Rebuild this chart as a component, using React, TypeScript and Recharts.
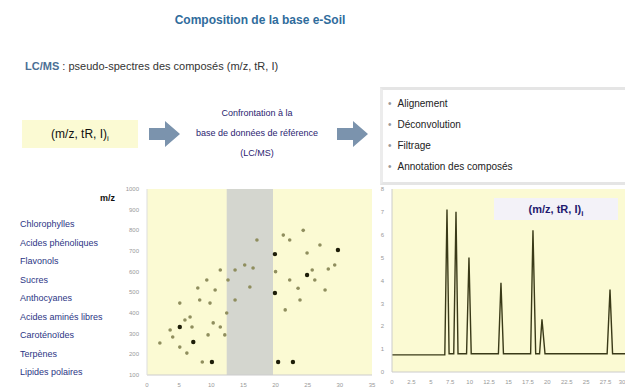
import React from 'react';
import { ScatterChart, Scatter, XAxis, YAxis, ReferenceArea, LineChart, Line } from 'recharts';

const titleText = 'Composition de la base e-Soil';
const subtitleLead = 'LC/MS';
const subtitleRest = ': pseudo-spectres des composés (m/z, tR, I)';
const featureTuple = '(m/z, tR, I)';
const middleLines = ['Confrontation à la', 'base de données de référence', '(LC/MS)'];
const processingSteps = ['Alignement', 'Déconvolution', 'Filtrage', 'Annotation des composés'];
const compoundClasses = [
  'Chlorophylles',
  'Acides phénoliques',
  'Flavonols',
  'Sucres',
  'Anthocyanes',
  'Acides aminés libres',
  'Caroténoïdes',
  'Terpènes',
  'Lipides polaires',
];

const rtTicks = [0, 5, 10, 15, 20, 25, 30, 35];
const mzTicks = [100, 200, 300, 400, 500, 600, 700, 800, 900, 1000];
const bandStart = 12.4;
const bandEnd = 19.6;

const darkRt = [19.9, 29.7, 24.9, 19.9, 5.1, 7.2, 10.1, 20.4, 22.7];
const darkMz = [685, 705, 584, 497, 332, 260, 163, 163, 163];
const lightRt = [9.3, 7.9, 5.1, 9.8, 6.7, 5.1, 8.6, 21.2, 24.3, 24.9, 22.2, 25.7, 28.2, 26.1, 16.5, 17.1, 16.0, 13.7, 11.4, 11.4, 12.4, 10.3, 7.0, 4.0, 6.2, 9.5, 20.0, 23.5, 2.0, 3.6, 5.9, 8.2, 10.6, 12.6, 13.7, 12.1, 15.2, 22.2, 26.9, 29.2, 27.7, 23.8, 21.5];
const lightMz = [560, 521, 448, 448, 381, 235, 163, 777, 800, 690, 560, 608, 613, 560, 618, 753, 526, 608, 608, 332, 400, 352, 332, 284, 206, 294, 600, 520, 255, 318, 366, 463, 511, 560, 463, 294, 632, 753, 729, 632, 511, 463, 415];

const chromTime = [0, 6.8, 7.08, 7.35, 7.95, 8.24, 8.5, 9.6, 9.91, 10.2, 13.7, 14.03, 14.35, 17.85, 18.15, 18.5, 19.0, 19.31, 19.7, 27.7, 28.07, 28.4, 30];
const chromIntensity = [0.75, 0.75, 7.1, 0.8, 0.8, 7.0, 0.8, 0.8, 5.0, 0.8, 0.8, 3.9, 0.8, 0.8, 6.2, 0.8, 0.8, 2.3, 0.8, 0.8, 3.6, 0.8, 0.8];
const chromTimeTicks = [0, 2.5, 5, 7.5, 10, 12.5, 15, 17.5, 20, 22.5, 25, 27.5, 30];
const chromIntTicks = [0, 1, 2, 3, 4, 5, 6, 7, 8];

const darkFeatures = darkRt.map((rt, i) => ({ rt, mz: darkMz[i] }));
const lightFeatures = lightRt.map((rt, i) => ({ rt, mz: lightMz[i] }));
const chromData = chromTime.map((t, i) => ({ t, i: chromIntensity[i] }));

const FONT = '"Liberation Sans", Arial, sans-serif';
const YELLOW = '#fbfad3';

const Arrow = ({ left, top }: { left: number; top: number }) => (
  <svg style={{ position: 'absolute', left, top }} width={32} height={26}>
    <polygon points="0,7 16,7 16,0 31,13 16,26 16,19 0,19" fill="#7b93ad" />
  </svg>
);

const dot = (color: string, r: number) => (props: any) => (
  <circle cx={props.cx} cy={props.cy} r={r} fill={color} />
);

export default function App() {
  return (
    <div style={{ position: 'absolute', left: 0, top: 0, width: 625, height: 392, background: '#fff', overflow: 'hidden', fontFamily: FONT }}>
      <div style={{ position: 'absolute', left: 0, width: 520, top: 13, textAlign: 'center', fontSize: 12, fontWeight: 'bold', color: '#2f6c9c' }}>
        {titleText}
      </div>
      <div style={{ position: 'absolute', left: 25, top: 60, fontSize: 11, color: '#333', whiteSpace: 'nowrap' }}>
        <span style={{ color: '#4b6f95', fontWeight: 'bold' }}>{subtitleLead}</span> {subtitleRest}
      </div>

      <div style={{ position: 'absolute', left: 22, top: 120, width: 116, height: 28, background: YELLOW, fontSize: 12, lineHeight: '28px', textAlign: 'center', color: '#111' }}>
        {featureTuple}<sub style={{ fontSize: 8 }}>i</sub>
      </div>
      <Arrow left={149} top={121} />
      <div style={{ position: 'absolute', left: 182, width: 150, top: 103, textAlign: 'center', fontSize: 9, color: '#2b2370', lineHeight: '20px' }}>
        {middleLines.map((l) => (
          <div key={l}>{l}</div>
        ))}
      </div>
      <Arrow left={337} top={121} />

      <div style={{ position: 'absolute', left: 380, top: 87, width: 260, height: 92, borderTop: '3px solid #e5e5e5', borderLeft: '3px solid #ececec', borderBottom: '3px solid #e5e5e5', background: '#fff' }}>
        {processingSteps.map((s, k) => (
          <div key={s} style={{ position: 'absolute', left: 5, top: 8 + k * 21, fontSize: 10, color: '#222', whiteSpace: 'nowrap' }}>
            <span style={{ color: '#999', marginRight: 6 }}>•</span>
            {s}
          </div>
        ))}
      </div>

      <div style={{ position: 'absolute', left: 100, top: 193, fontSize: 9, fontWeight: 'bold', color: '#111' }}>
        m/z
      </div>
      <div style={{ position: 'absolute', left: 20, top: 215, fontSize: 9, lineHeight: '18.5px', color: '#2c3585' }}>
        {compoundClasses.map((c) => (
          <div key={c} style={{ whiteSpace: 'nowrap' }}>{c}</div>
        ))}
      </div>

      <div style={{ position: 'absolute', left: 100, top: 185 }}>
        <ScatterChart width={280} height={204} margin={{ top: 4, right: 8, bottom: 0, left: 0 }}>
          <XAxis type="number" dataKey="rt" domain={[0, 35]} ticks={rtTicks} height={14} tick={{ fontSize: 6, fill: '#999' }} tickLine={false} axisLine={{ stroke: '#ccc' }} />
          <YAxis type="number" dataKey="mz" domain={[100, 1000]} ticks={mzTicks} width={47} tick={{ fontSize: 6, fill: '#999' }} tickLine={false} axisLine={{ stroke: '#ddd' }} />
          <ReferenceArea x1={0} x2={35} y1={100} y2={1000} fill={YELLOW} fillOpacity={1} stroke="none" />
          <ReferenceArea x1={bandStart} x2={bandEnd} y1={100} y2={1000} fill="#d4d6cf" fillOpacity={1} stroke="none" />
          <Scatter data={lightFeatures} fill="#8f8e5e" shape={dot('#8f8e5e', 1.8)} isAnimationActive={false} />
          <Scatter data={darkFeatures} fill="#1d1d08" shape={dot('#1d1d08', 2.2)} isAnimationActive={false} />
        </ScatterChart>
      </div>

      <div style={{ position: 'absolute', left: 372, top: 185 }}>
        <LineChart width={253} height={201} data={chromData} margin={{ top: 4, right: 0, bottom: 0, left: 0 }}>
          <ReferenceArea x1={0} x2={30} y1={0} y2={8} fill={YELLOW} fillOpacity={1} stroke="none" />
          <XAxis type="number" dataKey="t" domain={[0, 30]} ticks={chromTimeTicks} height={14} tick={{ fontSize: 6, fill: '#999' }} tickLine={false} axisLine={{ stroke: '#ccc' }} />
          <YAxis type="number" domain={[0, 8]} ticks={chromIntTicks} width={20} tick={{ fontSize: 6, fill: '#999' }} tickLine={false} axisLine={{ stroke: '#ccc' }} />
          <Line type="linear" dataKey="i" stroke="#3a3a18" strokeWidth={1.4} dot={false} isAnimationActive={false} />
        </LineChart>
      </div>
      <div style={{ position: 'absolute', left: 494, top: 198, width: 124, height: 22, background: '#f3f2f8', fontSize: 11, fontWeight: 'bold', color: '#1f1a6e', textAlign: 'center', lineHeight: '22px' }}>
        {featureTuple}<sub style={{ fontSize: 8 }}>i</sub>
      </div>
    </div>
  );
}
